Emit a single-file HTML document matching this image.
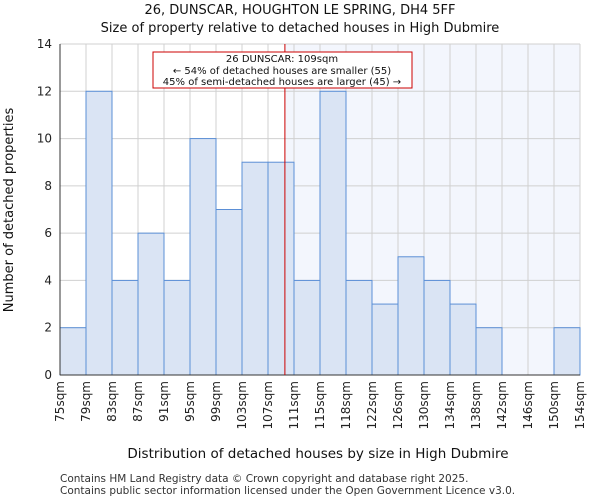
<!DOCTYPE html>
<html><head><meta charset="utf-8"><style>body{margin:0;background:#fff}svg{display:block;font-family:"DejaVu Sans","Liberation Sans",sans-serif}</style></head>
<body>
<svg id="c" width="600" height="500"></svg>
<script>
const categories=["75sqm","79sqm","83sqm","87sqm","91sqm","95sqm","99sqm","103sqm","107sqm","111sqm","115sqm","118sqm","122sqm","126sqm","130sqm","134sqm","138sqm","142sqm","146sqm","150sqm","154sqm"];
const counts=[2,12,4,6,4,10,7,9,9,4,12,4,3,5,4,3,2,0,0,2];
const yTicks=[0,2,4,6,8,10,12,14];
const markerBin=8.65;
const ns="http://www.w3.org/2000/svg",svg=document.getElementById('c');
const X0=60,X1=580,Y0=375,Y1=44,bw=(X1-X0)/counts.length;
const x=i=>X0+i*bw, y=v=>Y0-(v/14)*(Y0-Y1);
function el(t,a,p){const e=document.createElementNS(ns,t);for(const k in a)e.setAttribute(k,a[k]);(p||svg).appendChild(e);return e;}
const mx=x(markerBin);
let r=el('rect',{x:mx,y:Y1,width:X1-mx,height:Y0-Y1,fill:'#f3f6fd'});

for(const t of yTicks){let g=el('line',{x1:X0,x2:X1,y1:y(t),y2:y(t),stroke:'#d0d0d0'});}
for(let i=0;i<=counts.length;i++){let g=el('line',{x1:x(i),x2:x(i),y1:Y1,y2:Y0,stroke:'#d0d0d0'});}
counts.forEach((v,i)=>{if(!v)return;let b=el('rect',{x:x(i),y:y(v),width:bw,height:Y0-y(v),fill:'#dae4f4',stroke:'#5b8fd6','stroke-width':1});});
let ax=el('line',{x1:X0,x2:X0,y1:Y1,y2:Y0,stroke:'#333'});
let ax2=el('line',{x1:X0,x2:X1,y1:Y0,y2:Y0,stroke:'#333'});
for(const t of yTicks){let l=el('text',{x:X0-8,y:y(t)+4,'text-anchor':'end','font-size':12,fill:'#222'});l.textContent=t;}
categories.forEach((c,i)=>{const xx=x(i);let l=el('text',{x:0,y:0,'text-anchor':'end','font-size':12,fill:'#222',transform:`translate(${xx+4},${Y0+6}) rotate(-90)`});l.textContent=c;});
let ml=el('line',{x1:mx,x2:mx,y1:Y1,y2:Y0,stroke:'#cc0000','stroke-width':1});
let bx=el('rect',{x:153,y:52,width:259,height:36,fill:'#fff',stroke:'#cc0000'});
[["26 DUNSCAR: 109sqm",62],["← 54% of detached houses are smaller (55)",74],["45% of semi-detached houses are larger (45) →",85]].forEach(([s,yy])=>{let t=el('text',{x:282,y:yy,'text-anchor':'middle','font-size':10,fill:'#111'});t.textContent=s;});
let t1=el('text',{x:300,y:14,'text-anchor':'middle','font-size':13,fill:'#111'});t1.textContent="26, DUNSCAR, HOUGHTON LE SPRING, DH4 5FF";
let t2=el('text',{x:300,y:32,'text-anchor':'middle','font-size':13,fill:'#111'});t2.textContent="Size of property relative to detached houses in High Dubmire";
let xt=el('text',{x:318,y:458,'text-anchor':'middle','font-size':13.5,fill:'#111'});xt.textContent="Distribution of detached houses by size in High Dubmire";
let yt=el('text',{x:0,y:0,'text-anchor':'middle','font-size':13,fill:'#111',transform:'translate(13,210) rotate(-90)'});yt.textContent="Number of detached properties";
let f1=el('text',{x:60,y:482,'font-size':10.5,fill:'#333'});f1.textContent="Contains HM Land Registry data © Crown copyright and database right 2025.";
let f2=el('text',{x:60,y:494,'font-size':10.5,fill:'#333'});f2.textContent="Contains public sector information licensed under the Open Government Licence v3.0.";
</script>
</body></html>
